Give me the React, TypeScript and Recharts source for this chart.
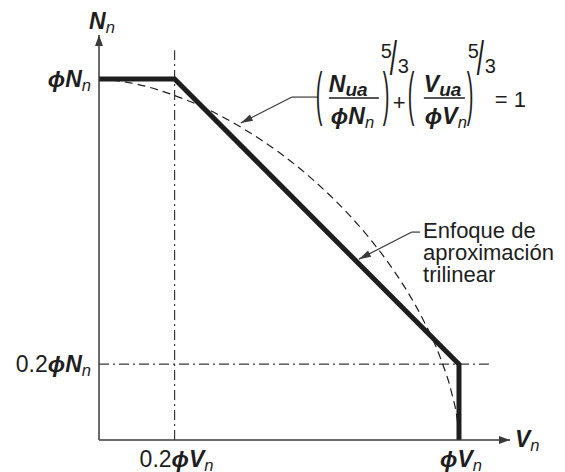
import { LineChart, Line, XAxis, YAxis, ReferenceLine, ReferenceDot } from "recharts";

// trilinear approximation (thick line)
const trilinearV = [0, 0.21, 1, 1];
const trilinearN = [1, 1, 0.21, 0];

// interaction curve (dashed)
const curveV = [0, 0.1, 0.2, 0.3, 0.4, 0.5, 0.6, 0.7, 0.8, 0.85, 0.9, 0.95, 0.98, 0.995, 0.999, 1];
const curveN = [1, 0.987, 0.958, 0.917, 0.863, 0.797, 0.716, 0.618, 0.496, 0.422, 0.334, 0.223, 0.129, 0.057, 0.022, 0];

const xTicks = [0.21, 1];
const xTickPrefix = ["0.2", ""];
const yTicks = [0.21, 1];
const yTickPrefix = ["0.2", ""];

const X_MAX = 1.1417;
const Y_MAX = 1.122;

// leader lines: [start, bend, tip]
const eqLeaderV = [0.608, 0.536, 0.394];
const eqLeaderN = [0.95, 0.95, 0.878];
const triLeaderV = [0.892, 0.869, 0.722];
const triLeaderN = [0.576, 0.576, 0.501];

const trilinear = trilinearV.map((v, i) => ({ v, n: trilinearN[i] }));
const curve = curveV.map((v, i) => ({ v, n: curveN[i] }));

const FONT = "'Liberation Sans', Arial, Helvetica, sans-serif";
const INK = "#1e1e1e";
const AXIS = "#3a3a3a";

function Sym({ x, y, pre, main, sub, size, anchor = "start", subSize, subBold = false }: any) {
  return (
    <text x={x} y={y} fontSize={size} fontFamily={FONT} fill={INK} textAnchor={anchor}>
      {pre ? <tspan>{pre}</tspan> : null}
      <tspan fontStyle="italic" fontWeight="bold">{main}</tspan>
      {sub ? (
        <tspan fontStyle="italic" fontWeight={subBold ? "bold" : "normal"} fontSize={subSize || size * 0.72} dy={size * 0.18}>
          {sub}
        </tspan>
      ) : null}
    </text>
  );
}

function Arrow({ cx, cy, angle, len = 11, wid = 8 }: any) {
  const a = (angle * Math.PI) / 180;
  const bx = cx - len * Math.cos(a);
  const by = cy - len * Math.sin(a);
  const px = (wid / 2) * -Math.sin(a);
  const py = (wid / 2) * Math.cos(a);
  return <polygon points={`${cx},${cy} ${bx + px},${by + py} ${bx - px},${by - py}`} fill={AXIS} />;
}

function XTick({ x, y, payload }: any) {
  const i = xTicks.indexOf(payload.value);
  return <Sym x={x + 2} y={y + 27} pre={xTickPrefix[i]} main="ϕV" sub="n" size={23} anchor="middle" />;
}

function YTick({ x, y, payload }: any) {
  const i = yTicks.indexOf(payload.value);
  return <Sym x={x - 8} y={y + 8} pre={yTickPrefix[i]} main="ϕN" sub="n" size={23} anchor="end" />;
}

function Paren({ x, y, ch }: any) {
  return (
    <text transform={`translate(${x},${y}) scale(1,3)`} fontSize={20} fontFamily={FONT} fill={INK}>
      {ch}
    </text>
  );
}

function Exponent({ x, y }: any) {
  return (
    <g fontFamily={FONT} fill={INK}>
      <text x={x} y={y} fontSize={20}>5</text>
      <text transform={`translate(${x + 9},${y + 17}) scale(1.3,2.4)`} fontSize={20}>/</text>
      <text x={x + 17} y={y + 15} fontSize={20}>3</text>
    </g>
  );
}

function Equation({ cx, cy }: any) {
  return (
    <g transform={`translate(${cx},${cy})`}>
      <Paren x={-2} y={17} ch="(" />
      <Sym x={11} y={-5} main="N" sub="ua" size={23} subSize={19} subBold />
      <line x1={11} x2={61} y1={1} y2={1} stroke={INK} strokeWidth={1.5} />
      <Sym x={13} y={27} main="ϕN" sub="n" size={23} />
      <Paren x={65} y={17} ch=")" />
      <Exponent x={63} y={-39} />
      <text x={75} y={13} fontSize={22} fontFamily={FONT} fill={INK}>+</text>
      <Paren x={90} y={17} ch="(" />
      <Sym x={106} y={-5} main="V" sub="ua" size={23} subSize={19} subBold />
      <line x1={106} x2={147} y1={1} y2={1} stroke={INK} strokeWidth={1.5} />
      <Sym x={107} y={27} main="ϕV" sub="n" size={23} />
      <Paren x={149} y={17} ch=")" />
      <Exponent x={150} y={-39} />
      <text x={177} y={10} fontSize={22} fontFamily={FONT} fill={INK}>= 1</text>
    </g>
  );
}

function TrilinearNote({ cx, cy }: any) {
  const lines = ["Enfoque de", "aproximación", "trilinear"];
  return (
    <text fontSize={22} fontFamily={FONT} fill={INK}>
      {lines.map((t, i) => (
        <tspan key={t} x={cx + 3} y={cy + 6 + i * 22}>{t}</tspan>
      ))}
    </text>
  );
}

function leader(vs: number[], ns: number[], key: string) {
  return [0, 1].map((k) => (
    <ReferenceLine
      key={key + k}
      segment={[
        { x: vs[k], y: ns[k] },
        { x: vs[k + 1], y: ns[k + 1] },
      ]}
      stroke={AXIS}
      strokeWidth={1.2}
      ifOverflow="visible"
    />
  ));
}

export default function App() {
  return (
    <div style={{ width: 549, height: 464 }}>
      <LineChart width={549} height={464} margin={{ top: 27, right: 47, left: 0, bottom: 0 }}>
        <XAxis
          type="number"
          dataKey="v"
          domain={[0, X_MAX]}
          allowDataOverflow
          ticks={xTicks}
          tick={<XTick />}
          tickLine={false}
          tickSize={0}
          tickMargin={0}
          height={32}
          axisLine={{ stroke: AXIS, strokeWidth: 1.5 }}
        />
        <YAxis
          type="number"
          dataKey="n"
          domain={[0, Y_MAX]}
          allowDataOverflow
          ticks={yTicks}
          tick={<YTick />}
          tickLine={false}
          tickSize={0}
          tickMargin={0}
          width={91}
          axisLine={{ stroke: AXIS, strokeWidth: 1.5 }}
        />
        <ReferenceLine
          segment={[
            { x: xTicks[0], y: 0 },
            { x: xTicks[0], y: 1.08 },
          ]}
          stroke={AXIS}
          strokeWidth={1.2}
          strokeDasharray="10 4 2 4"
        />
        <ReferenceLine
          segment={[
            { x: 0, y: yTicks[0] },
            { x: 1.083, y: yTicks[0] },
          ]}
          stroke={AXIS}
          strokeWidth={1.2}
          strokeDasharray="10 4 2 4"
        />
        <Line
          data={curve}
          dataKey="n"
          type="monotone"
          stroke={INK}
          strokeWidth={1.2}
          strokeDasharray="8 5"
          dot={false}
          activeDot={false}
          isAnimationActive={false}
        />
        <Line
          data={trilinear}
          dataKey="n"
          type="linear"
          stroke={INK}
          strokeWidth={5}
          strokeLinejoin="miter"
          dot={false}
          activeDot={false}
          isAnimationActive={false}
        />
        {leader(eqLeaderV, eqLeaderN, "eq")}
        {leader(triLeaderV, triLeaderN, "tri")}
        <ReferenceDot x={eqLeaderV[2]} y={eqLeaderN[2]} ifOverflow="visible" shape={(p: any) => <Arrow cx={p.cx} cy={p.cy} angle={153} len={12} wid={7} />} />
        <ReferenceDot x={triLeaderV[2]} y={triLeaderN[2]} ifOverflow="visible" shape={(p: any) => <Arrow cx={p.cx} cy={p.cy} angle={153} len={12} wid={7} />} />
        <ReferenceDot x={eqLeaderV[0]} y={eqLeaderN[0]} ifOverflow="visible" shape={(p: any) => <Equation cx={p.cx} cy={p.cy} />} />
        <ReferenceDot x={triLeaderV[0]} y={triLeaderN[0]} ifOverflow="visible" shape={(p: any) => <TrilinearNote cx={p.cx} cy={p.cy} />} />
        <ReferenceDot
          x={X_MAX}
          y={0}
          ifOverflow="visible"
          shape={(p: any) => (
            <g>
              <Arrow cx={p.cx} cy={p.cy} angle={0} />
              <Sym x={p.cx + 5} y={p.cy + 7} main="V" sub="n" size={23} />
            </g>
          )}
        />
        <ReferenceDot
          x={0}
          y={Y_MAX}
          ifOverflow="visible"
          shape={(p: any) => (
            <g>
              <Arrow cx={p.cx} cy={p.cy} angle={-90} />
              <Sym x={p.cx - 10} y={p.cy - 6} main="N" sub="n" size={23} />
            </g>
          )}
        />
      </LineChart>
    </div>
  );
}
